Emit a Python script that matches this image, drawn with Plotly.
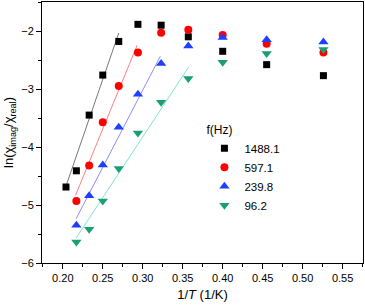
import plotly.graph_objects as go

# inverse temperature (1/K)
inv_T = [0.204, 0.217, 0.233, 0.250, 0.270, 0.294, 0.323, 0.357, 0.400, 0.455, 0.526]

freq_labels = ["1488.1", "597.1", "239.8", "96.2"]

y_1488 = [-4.69, -4.41, -3.45, -2.76, -2.18, -1.885, -1.90, -2.10, -2.35, -2.58, -2.77]
y_597 = [-4.93, -4.32, -3.575, -2.95, -2.37, -2.03, -1.98, -2.07, -2.22, -2.37]
y_240 = [-5.35, -4.84, -4.31, -3.66, -3.09, -2.56, -2.26, -2.11, -2.15, -2.19]
y_96 = [-5.64, -5.42, -4.93, -4.37, -3.76, -3.23, -2.82, -2.54, -2.39, -2.32]

# linear fits: slope, intercept, x-start, x-end
fit_slope = [40.0, 33.6, 26.6, 20.95]
fit_intercept = [-12.835, -12.09, -11.0, -10.11]
fit_xstart = [0.2045, 0.216, 0.2167, 0.2167]
fit_xend = [0.270, 0.293, 0.322, 0.3575]

series = [
    (inv_T, y_1488, "square", 7, "#000000", "#777777"),
    (inv_T[1:], y_597, "circle", 8, "#ff0000", "#ff8080"),
    (inv_T[1:], y_240, "triangle-up", 9, "#1f3fff", "#8c8cff"),
    (inv_T[1:], y_96, "triangle-down", 9, "#1a9e72", "#80e6c8"),
]

fig = go.Figure()
for i, (xs, ys, sym, sz, col, lcol) in enumerate(series):
    x0, x1 = fit_xstart[i], fit_xend[i]
    fig.add_trace(go.Scatter(
        x=[x0, x1],
        y=[fit_slope[i] * x0 + fit_intercept[i], fit_slope[i] * x1 + fit_intercept[i]],
        mode="lines", line=dict(color=lcol, width=1), showlegend=False, hoverinfo="skip"))
for i, (xs, ys, sym, sz, col, lcol) in enumerate(series):
    fig.add_trace(go.Scatter(
        x=xs, y=ys, mode="markers", name=freq_labels[i],
        marker=dict(symbol=sym, size=sz, color=col, line=dict(width=0))))

fig.update_layout(
    width=365, height=305,
    margin=dict(l=42, r=2, t=2, b=42, autoexpand=False),
    paper_bgcolor="white", plot_bgcolor="white",
    font=dict(family="Liberation Sans, Arial, sans-serif", size=11, color="#000000"),
    legend=dict(
        title=dict(text="f(Hz)", font=dict(size=12)),
        x=0.506, y=0.555, xanchor="left", yanchor="top",
        bgcolor="rgba(0,0,0,0)", font=dict(size=11.5),
        itemwidth=30, tracegroupgap=0,
    ),
    xaxis=dict(
        range=[0.174, 0.5755], tickmode="linear", tick0=0.2, dtick=0.05,
        tickformat=".2f", ticks="outside", ticklen=5, tickcolor="#000",
        showline=True, linecolor="#000", linewidth=1, mirror=True,
        showgrid=False, zeroline=False, automargin=False,
        minor=dict(dtick=0.025, tick0=0.2, ticks="outside", ticklen=3, tickcolor="#000"),
        title=dict(text="1/<i>T</i> (1/K)", font=dict(size=13), standoff=6),
    ),
    yaxis=dict(
        range=[-6, -1.5], tickmode="linear", tick0=-6, dtick=1,
        ticks="outside", ticklen=5, tickcolor="#000",
        showline=True, linecolor="#000", linewidth=1, mirror=True,
        showgrid=False, zeroline=False, automargin=False,
        minor=dict(dtick=0.5, tick0=-6, ticks="outside", ticklen=3, tickcolor="#000"),
        title=dict(text="ln(χ<sub>imag</sub>/χ<sub>real</sub>)", font=dict(size=13), standoff=4),
    ),
)

fig.write_html("out.html", config={"displayModeBar": False},
               post_script="document.body.style.margin='0';document.body.style.overflow='hidden';")
